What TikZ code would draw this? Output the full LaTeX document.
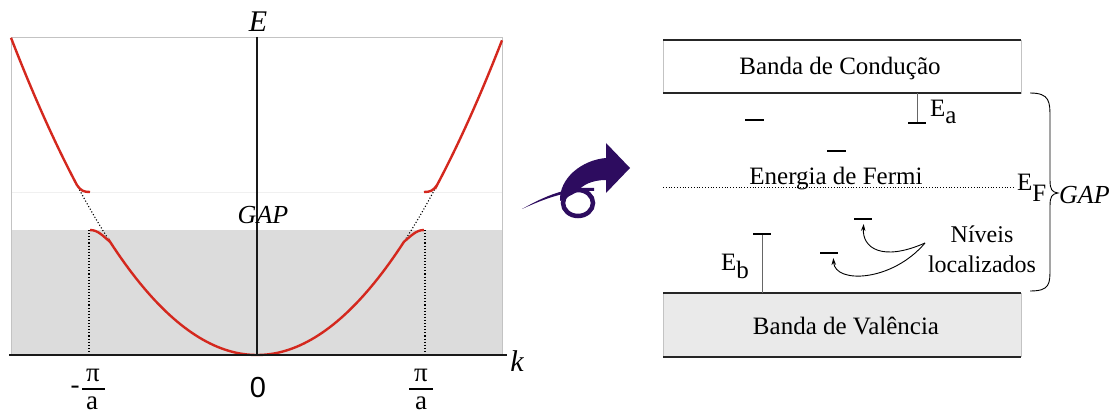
\documentclass[tikz,border=0pt]{standalone}
\usepackage{fontspec}
\setmainfont{Liberation Serif}
\newfontfamily\arialfont{Liberation Sans}
\usetikzlibrary{arrows.meta}
\definecolor{bandred}{RGB}{212,40,30}
\definecolor{gapgray}{RGB}{220,220,220}
\definecolor{valgray}{RGB}{234,234,234}
\definecolor{framegray}{RGB}{195,195,195}
\definecolor{iconpurple}{RGB}{45,12,95}
\begin{document}
\begin{tikzpicture}[x=1pt, y=-1pt,
    band/.style={draw=bandred, line width=2.4pt},
    axisline/.style={line width=2.5pt, draw=black!90},
    edgeline/.style={line width=2.8pt, draw=black!85},
    sideline/.style={draw=framegray, line width=0.8pt},
    guide/.style={dotted, line width=1.1pt},
    level/.style={line width=2.4pt},
    axlabel/.style={font=\fontsize{30}{36}\selectfont\itshape, inner sep=0pt},
    ticktext/.style={font=\fontsize{27}{30}\selectfont, inner sep=0pt, anchor=base},
    bandtext/.style={font=\fontsize{25}{30}\selectfont, inner sep=0pt},
    sublabel/.style={font=\fontsize{25}{30}\selectfont, inner sep=0pt},
    levelarrow/.style={-{Stealth[length=7pt,width=4.5pt]}, line width=0.9pt, shorten >=5pt}]
\useasboundingbox (0,0) rectangle (1116,414);

% E(k) diagram
\fill[gapgray] (11,230) rectangle (502,355);
\draw[black!6] (11,192) -- (502,192);
\draw[sideline] (11,355) -- (11,37) -- (502,37) -- (502,355);
\draw[guide] (89,230) -- (89,355);
\draw[guide] (425,230) -- (425,355);
\draw[guide] plot[domain=78:108, samples=12] (\x,{355-(0.0724*(\x-257))^2});
\draw[guide] plot[domain=406:436, samples=12] (\x,{355-(0.0724*(\x-257))^2});

\draw[band] plot[domain=11:77, samples=30] (\x,{355-(0.0724*(\x-257))^2}) .. controls (81,191) and (84,192) .. (90,192);
\draw[band] (424,192) .. controls (430,192) and (433,191) .. (437,185) -- plot[domain=437:502, samples=30] (\x,{355-(0.0724*(\x-257))^2});
\draw[band] (90,230) .. controls (98,230) and (103,236) .. (110,241.8)
    -- plot[domain=110:404, samples=80] (\x,{355-(0.0724*(\x-257))^2})
    .. controls (411,236) and (416,230) .. (424,230);

\draw[axisline] (9,355) -- (507,355);
\draw[axisline] (257,37) -- (257,355);

\node[axlabel, anchor=base] (elabel) at (258,32) {E};
\node[axlabel, anchor=base] (klabel) at (517,371) {k};
\node[axlabel, font=\fontsize{26}{30}\selectfont\itshape, anchor=base] (gapleft) at (263,223) {GAP};

% zone boundaries
\node[ticktext] (minus) at (75,393) {-};
\node[ticktext] (pimin) at (93,381) {π};
\node[ticktext] (amin) at (92,409) {a};
\draw[line width=1.1pt] (82,389) -- (105,389);
\node[ticktext] (pimax) at (421,381) {π};
\node[ticktext] (amax) at (421,409) {a};
\draw[line width=1.1pt] (409,389) -- (433,389);
\node[ticktext, font=\fontsize{29}{34}\selectfont\arialfont] (kzero) at (258,397) {0};

% curly arrow
\fill[iconpurple] (522,209) .. controls (545,196) and (568,186) .. (594,188) -- (594,191) .. controls (568,190) and (546,198) .. (522,209) -- cycle;
\draw[iconpurple, line width=4.5pt] (578,203) ellipse [x radius=15, y radius=13];
\fill[iconpurple] (560,201) .. controls (559,178) and (582,160) .. (606,158) -- (606,143) -- (630,168) -- (606,193) -- (606,180) .. controls (592,180) and (582,185) .. (577,192) -- cycle;

% band scheme
\draw[sideline, fill=white] (663,40) rectangle (1021,93);
\draw[edgeline] (663,40) -- (1021,40);
\draw[edgeline] (663,93) -- (1021,93);
\node[bandtext, anchor=base] (cond) at (840,75) {Banda de Condução};

\fill[valgray] (663,293) rectangle (1021,357);
\draw[sideline] (663,293) -- (663,357);
\draw[sideline] (1021,293) -- (1021,357);
\draw[edgeline] (663,293) -- (1021,293);
\draw[edgeline] (663,357) -- (1021,357);
\node[bandtext, anchor=base] (val) at (846,334) {Banda de Valência};

\draw[dotted, line width=0.8pt] (663,187) -- (1015,187);
\node[bandtext, anchor=base] (fermi) at (836,185) {Energia de Fermi};
\node[sublabel, anchor=base west] (ef) at (1017,191) {E\raisebox{-10pt}{F}};

\draw[line width=0.9pt] (1030,93) .. controls (1050,93) and (1050,102) .. (1050,118) -- (1050,180)
    .. controls (1050,190) and (1052,192) .. (1058,193) .. controls (1052,194) and (1050,196) .. (1050,206)
    -- (1050,268) .. controls (1050,284) and (1050,291) .. (1030,291);
\node[bandtext, font=\fontsize{26}{30}\selectfont\itshape, anchor=base west] (gapright) at (1059,204) {GAP};

% levels
\draw[level] (745,120) -- (764,120);
\draw[level] (827,151) -- (846,151);
\draw[level] (854,219) -- (872,219);
\draw[level] (820,253) -- (838,253);

\draw[draw=black!60, line width=0.8pt] (917,93) -- (917,123);
\draw[level] (908,123) -- (926,123);
\node[sublabel, anchor=base west] (ea) at (930,117) {E\raisebox{-7pt}{a}};

\draw[draw=black!60, line width=0.8pt] (762,234) -- (762,293);
\draw[level] (753,234) -- (771,234);
\node[sublabel, anchor=base west] (eb) at (721,270) {E\raisebox{-8pt}{b}};

\node[bandtext, align=center, font=\fontsize{24}{30}\selectfont] (niveis) at (982,249) {Níveis\\localizados};
\coordinate (nv) at (925,243);
\coordinate (lv3) at (864,219);
\coordinate (lv4) at (833,253);
\draw[levelarrow] (nv) .. controls (882,262) and (862,248) .. (lv3);
\draw[levelarrow] (nv) .. controls (892,282) and (835,284) .. (lv4);
\end{tikzpicture}
\end{document}
